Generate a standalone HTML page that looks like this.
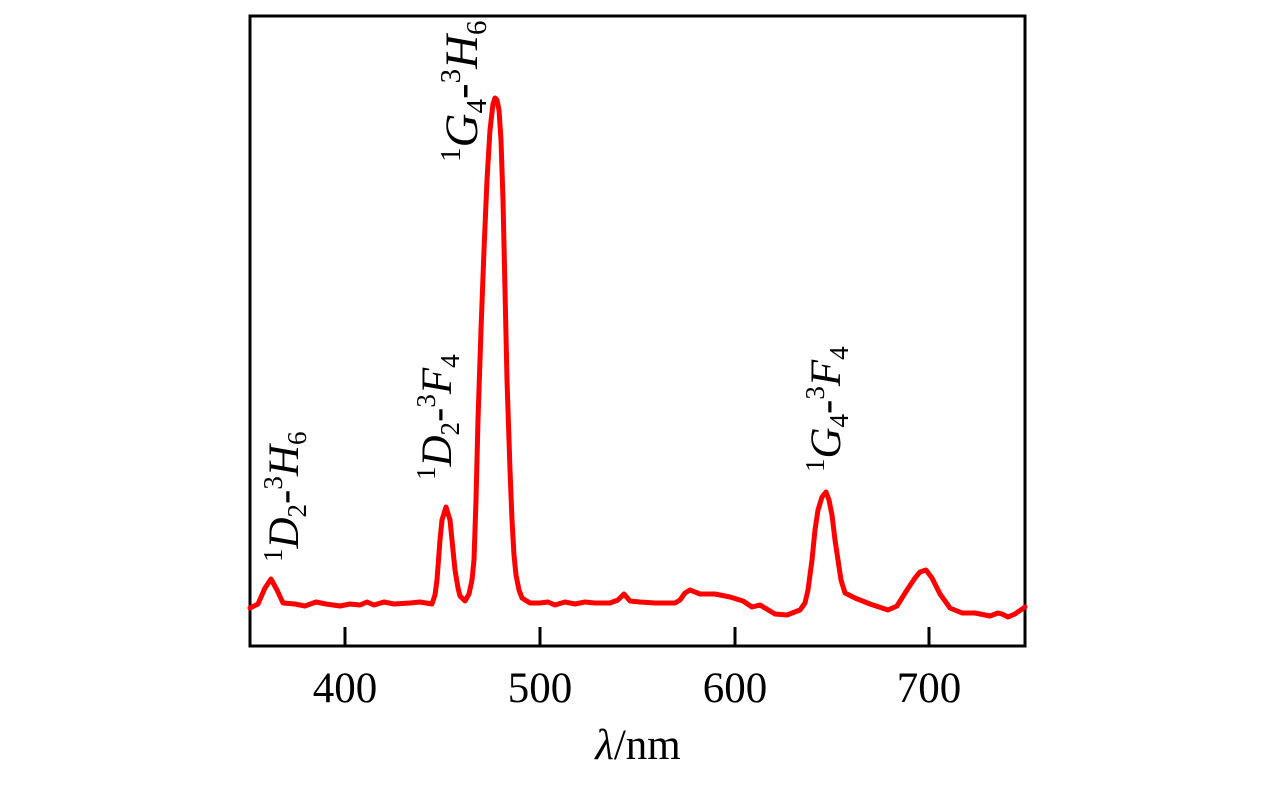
<!DOCTYPE html>
<html><head><meta charset="utf-8"><style>
html,body{margin:0;padding:0;background:#fff;}
svg{display:block;}
text{font-family:"Liberation Serif",serif;fill:#000;}
</style></head><body>
<svg width="1276" height="787" viewBox="0 0 1276 787" xmlns="http://www.w3.org/2000/svg">
<rect x="250" y="16" width="775" height="630" fill="none" stroke="#000" stroke-width="3"/>
<g stroke="#000" stroke-width="3">
<line x1="345" y1="646" x2="345" y2="627"/>
<line x1="540" y1="646" x2="540" y2="627"/>
<line x1="735" y1="646" x2="735" y2="627"/>
<line x1="929" y1="646" x2="929" y2="627"/>
</g>
<g font-size="43" text-anchor="middle">
<text x="345" y="702">400</text>
<text x="540" y="702">500</text>
<text x="735" y="702">600</text>
<text x="929" y="702">700</text>
</g>
<text x="638" y="759" font-size="43" text-anchor="middle"><tspan font-style="italic">λ</tspan>/nm</text>
<polyline fill="none" stroke="#ff0000" stroke-width="5" stroke-linejoin="round" stroke-linecap="round" points="
250,608 258,604 265,588 271,579 277,590 283,603 295,604 305,606 316,602 326,604 340,606 350,604 360,605 367,602 374,605 384,602 394,604 410,603 420,602 432,604 435,595 437,580 440,540 442,520 446,507 450,520 453,550 455,570 458,588 460,596 465,601 469,594 472,580 474,560 476,500 478,420 481,330 484,250 487,180 490,130 493,104 495,98 497,100 499,110 501,140 503,200 505,290 507,380 510,470 512,520 514,555 516,575 519,590 522,598 530,603 540,603 548,602 555,605 565,602 575,604 585,602 595,603 610,603 618,600 624,594 630,601 640,602 655,603 675,603 680,600 685,593 690,590 700,594 715,594 730,597 743,601 752,607 760,605 765,608 775,614 787,615 800,610 805,603 808,590 810,575 812,560 815,530 818,510 822,497 826,492 829,500 832,515 835,540 838,560 841,580 845,593 855,598 870,604 888,610 897,606 907,590 915,578 920,572 926,570 932,578 940,594 950,608 962,613 975,613 990,616 998,613 1002,614 1008,617 1015,614 1025,607"/>
<g font-size="43">
<text transform="translate(298,562) rotate(-90)">
<tspan font-size="27" dy="-16">1</tspan><tspan font-style="italic" dy="16">D</tspan><tspan font-size="27" dy="8">2</tspan><tspan dy="-8">-</tspan><tspan font-size="27" dy="-16">3</tspan><tspan font-style="italic" dy="16">H</tspan><tspan font-size="27" dy="8">6</tspan></text>
<text transform="translate(451,480) rotate(-90)">
<tspan font-size="27" dy="-16">1</tspan><tspan font-style="italic" dy="16">D</tspan><tspan font-size="27" dy="8">2</tspan><tspan dy="-8">-</tspan><tspan font-size="27" dy="-16">3</tspan><tspan font-style="italic" dy="16">F</tspan><tspan font-size="27" dy="8">4</tspan></text>
<text transform="translate(477,162) rotate(-90)" font-size="47">
<tspan font-size="29" dy="-17">1</tspan><tspan font-style="italic" dy="17">G</tspan><tspan font-size="29" dy="9">4</tspan><tspan dy="-9">-</tspan><tspan font-size="29" dy="-17">3</tspan><tspan font-style="italic" dy="17">H</tspan><tspan font-size="29" dy="9">6</tspan></text>
<text transform="translate(840,472) rotate(-90)">
<tspan font-size="27" dy="-16">1</tspan><tspan font-style="italic" dy="16">G</tspan><tspan font-size="27" dy="8">4</tspan><tspan dy="-8">-</tspan><tspan font-size="27" dy="-16">3</tspan><tspan font-style="italic" dy="16">F</tspan><tspan font-size="27" dy="8">4</tspan></text>
</g>
</svg>
</body></html>
